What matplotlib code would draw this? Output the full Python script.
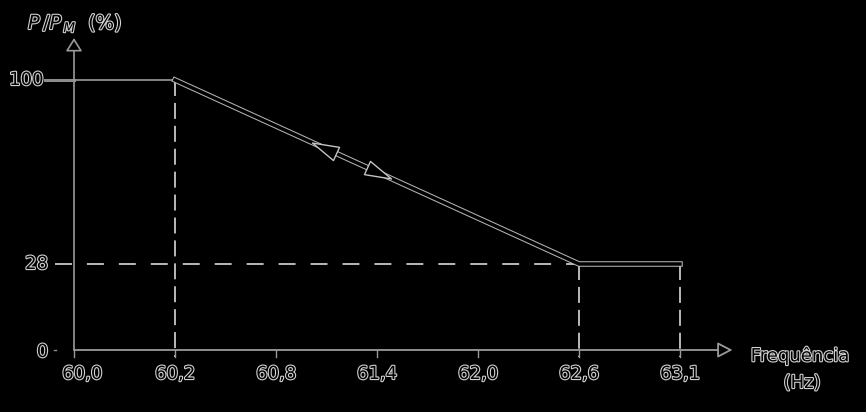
import numpy as np
import matplotlib
matplotlib.use("Agg")
import matplotlib.pyplot as plt
from matplotlib.markers import MarkerStyle
from matplotlib.path import Path
from matplotlib.transforms import Affine2D
import matplotlib.patheffects as pe

# ---------------- data ----------------
freq_labels = ["60,0", "60,2", "60,8", "61,4", "62,0", "62,6", "63,1"]
power_ticks = [0, 28, 100]
power_tick_labels = ["0", "28", "100"]
curve_freq = ["60,0", "60,2", "62,6", "63,1"]
curve_power = [100, 100, 28, 28]
arrow_frac = [0.37, 0.505]      # position of direction arrows along the slope
arrow_dir = [-1, 1]             # -1: towards lower frequency, +1: towards higher
x_label = "Frequência"
x_unit = "(Hz)"
y_label = r"$P\,/P_{\,M}$  (%)"

plt.rcParams["font.family"] = ["DejaVu Sans"]
plt.rcParams["lines.scale_dashes"] = False

# piecewise-linear power scale (0-28 stretched as in the original drawing)
def fwd(v):
    v = np.asarray(v, dtype=float)
    return np.where(v < 28, v * 86 / 28, 86 + (v - 28) * 184 / 72)

def inv(s):
    s = np.asarray(s, dtype=float)
    return np.where(s < 86, s * 28 / 86, 28 + (s - 86) * 72 / 184)

fig = plt.figure(figsize=(8.66, 4.12), dpi=100, facecolor="black")
ax = fig.add_axes([0, 0, 1, 1])
ax.set_facecolor("black")
ax.set_yscale("function", functions=(fwd, inv))
ax.set_xlim(-74 / 101, 792 / 101)
ax.set_ylim(float(inv(-62)), float(inv(350)))
ax.axis("off")

GRAY = "#9a9a9a"
LIGHT = "#c8c8c8"
below = float(inv(-7))
y_top = float(inv(312))
x_end = 6.52

txt_kw = dict(color="black", fontsize=13,
              path_effects=[pe.withStroke(linewidth=1.6, foreground="#d2d2d2")])

cx = [freq_labels.index(f) for f in curve_freq]

# axes with arrows
ax.annotate("", xy=(0, y_top), xytext=(0, 0),
            arrowprops=dict(arrowstyle="-|>,head_length=0.8,head_width=0.5",
                            mutation_scale=10, fc="black", ec=GRAY, lw=1.2,
                            shrinkA=0, shrinkB=0), zorder=3)
ax.annotate("", xy=(x_end, 0), xytext=(0, 0),
            arrowprops=dict(arrowstyle="-|>,head_length=0.9,head_width=0.47",
                            mutation_scale=10, fc="black", ec=GRAY, lw=1.3,
                            shrinkA=0, shrinkB=0), zorder=3)

# x ticks & labels
for i, lab in enumerate(freq_labels):
    ax.plot([i, i], [0, below], color=GRAY, lw=1.0, zorder=3)
    ax.annotate(lab, xy=(i, 0), xytext=(8 if i == 0 else 0, -24),
                textcoords="offset pixels", ha="center", va="center", **txt_kw)

# y tick labels
ax.plot([-0.287, 0], [100, 100], color="#8c8c8c", lw=2.2, zorder=3)
ax.plot([-0.2, -0.18], [0, 0], color="#8c8c8c", lw=1.0, zorder=3)
for v, lab in zip(power_ticks, power_tick_labels):
    off = -31 if v == 100 else -26
    dy = -2 if v == 0 else 0
    ax.annotate(lab, xy=(0, v), xytext=(off, dy), textcoords="offset pixels",
                ha="right", va="center", **txt_kw)

# dashed guide lines
ax.plot([-0.188, cx[2]], [curve_power[2], curve_power[2]], color=LIGHT, lw=1.3,
        dashes=(12.2, 10.8), zorder=2)
ax.plot([cx[1], cx[1]], [curve_power[1], below], color=LIGHT, lw=1.3,
        dashes=(11.5, 5), zorder=2)
for xi in cx[2:]:
    ax.plot([xi, xi], [curve_power[2], below], color=LIGHT, lw=1.3,
            dashes=(11.5, 5), zorder=2)

# characteristic curve
ax.plot(cx[:2], curve_power[:2], color=GRAY, lw=1.2, zorder=4)
ax.plot(cx[1:], curve_power[1:], color="black", lw=2.5, zorder=4,
        solid_joinstyle="miter",
        path_effects=[pe.Stroke(linewidth=4.0, foreground="#b4b4b4"), pe.Normal()])

# direction arrows on the slope
fig.canvas.draw()
p1 = ax.transData.transform((cx[1], curve_power[1]))
p2 = ax.transData.transform((cx[2], curve_power[2]))
ang = np.degrees(np.arctan2(p2[1] - p1[1], p2[0] - p1[0]))
head = Path([(1, 0), (-1, 0.55), (-1, -0.55), (1, 0)],
            [Path.MOVETO, Path.LINETO, Path.LINETO, Path.CLOSEPOLY])
for frac, d in zip(arrow_frac, arrow_dir):
    xa = cx[1] + frac * (cx[2] - cx[1])
    ya = np.interp(xa, cx, curve_power)
    rot = ang if d > 0 else ang + 180
    ms = MarkerStyle(head, transform=Affine2D().rotate_deg(rot))
    ax.plot([xa], [ya], marker=ms, markersize=19, mfc="black", mec="#c4c4c4",
            mew=1.0, linestyle="none", zorder=5)

# axis titles
fig.text(800 / 866, 1 - 356 / 412, x_label, ha="center", va="center", **txt_kw)
fig.text(802 / 866, 1 - 383 / 412, x_unit, ha="center", va="center", **txt_kw)
title_kw = dict(txt_kw)
title_kw["fontsize"] = 14
fig.text(28 / 866, 1 - 29 / 412, y_label, ha="left", va="baseline", **title_kw)

fig.savefig("out.png", dpi=100, facecolor="black")
